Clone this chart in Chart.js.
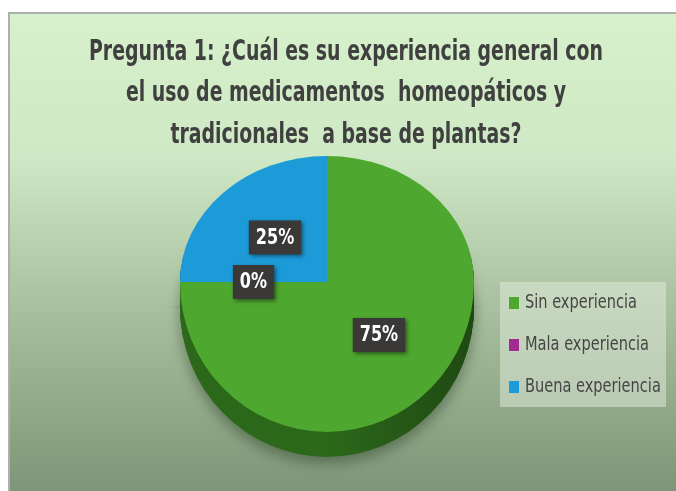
<!DOCTYPE html>
<html>
<head>
<meta charset="utf-8">
<script src="https://cdn.jsdelivr.net/npm/chart.js@4.4.1/dist/chart.umd.min.js"></script>
<style>
  html, body { margin: 0; padding: 0; background: #ffffff; }
  #wrap { position: relative; width: 676px; height: 491px; }
</style>
</head>
<body>
<div id="wrap"><canvas id="c" width="676" height="491"></canvas></div>
<script>
// ---- data ----
const titleLines = [
  'Pregunta 1: ¿Cuál es su experiencia general con',
  'el uso de medicamentos  homeopáticos y',
  'tradicionales  a base de plantas?'
];
const categories = ['Sin experiencia', 'Mala experiencia', 'Buena experiencia'];
const values = [75, 0, 25];
const valueLabels = ['75%', '0%', '25%'];
const sliceColors = ['#4ea72e', '#a02b93', '#1c9bd8'];
const sideColors = ['#2c681a', '#6a1c61', '#136a94'];

const FONT = "'Liberation Sans Narrow','DejaVu Sans Condensed','Roboto Condensed','Liberation Sans',sans-serif";

// vertical squash of the pie (upper / lower half) to fake the 3D tilt
const K_TOP = 0.857, K_BOT = 1.02, DEPTH = 25;

function drawPieLayer(chart, ctx, dy, colorArr) {
  const meta = chart.getDatasetMeta(0);
  const cx = meta.data[0].x, cy = meta.data[0].y;
  [[K_TOP, true], [K_BOT, false]].forEach(([k, top]) => {
    ctx.save();
    ctx.beginPath();
    if (top) ctx.rect(0, cy + dy - 1000, 2000, 1000.5);
    else ctx.rect(0, cy + dy - 0.5, 2000, 1000);
    ctx.clip();
    ctx.translate(cx, cy + dy);
    ctx.scale(1, k);
    ctx.translate(-cx, -cy);
    meta.data.forEach((arc, i) => {
      const o = arc.options;
      const old = o.backgroundColor;
      if (colorArr) o.backgroundColor = colorArr[i];
      arc.draw(ctx);
      o.backgroundColor = old;
    });
    ctx.restore();
  });
}

const pie3d = {
  id: 'pie3d',
  beforeDraw(chart) {
    const ctx = chart.ctx;
    ctx.save();
    ctx.fillStyle = '#ffffff';
    ctx.fillRect(0, 0, chart.width, chart.height);
    const g = ctx.createLinearGradient(0, 12, 0, 491);
    g.addColorStop(0, '#d6f1cb');
    g.addColorStop(0.3, '#cfe8c5');
    g.addColorStop(0.6, '#aac2a1');
    g.addColorStop(1, '#7e9577');
    ctx.fillStyle = g;
    ctx.fillRect(8, 12, 668, 479);
    ctx.strokeStyle = '#aeb0ad';
    ctx.lineWidth = 2;
    ctx.beginPath();
    ctx.moveTo(9, 491); ctx.lineTo(9, 13); ctx.lineTo(676, 13);
    ctx.stroke();
    ctx.restore();
  },
  beforeDatasetsDraw(chart) {
    const ctx = chart.ctx;
    const meta = chart.getDatasetMeta(0);
    const cx = meta.data[0].x;
    const r = meta.data[0].outerRadius;
    const grads = sideColors.map(c => {
      const g = ctx.createLinearGradient(cx - r, 0, cx + r, 0);
      g.addColorStop(0, c);
      g.addColorStop(0.5, c);
      g.addColorStop(1, shade(c, 0.7));
      return g;
    });
    ctx.save();
    ctx.shadowColor = 'rgba(30,50,25,0.45)';
    ctx.shadowBlur = 14;
    ctx.shadowOffsetY = 6;
    drawPieLayer(chart, ctx, DEPTH, grads);
    ctx.restore();
    for (let d = DEPTH - 1; d >= 1; d--) drawPieLayer(chart, ctx, d, grads);
    drawPieLayer(chart, ctx, 0, null);
    return false;
  },
  afterDraw(chart) {
    const ctx = chart.ctx;
    const meta = chart.getDatasetMeta(0);
    const cy = meta.data[0].y;
    // data labels
    meta.data.forEach((arc, i) => {
      const p = arc.getCenterPoint();
      const y = p.y < cy ? cy + (p.y - cy) * K_TOP : cy + (p.y - cy) * K_BOT;
      ctx.save();
      ctx.font = 'bold 21px ' + FONT;
      const tw = ctx.measureText(valueLabels[i]).width * 0.85;
      const w = tw + 14, h = 34;
      ctx.shadowColor = 'rgba(0,0,0,0.45)';
      ctx.shadowBlur = 4; ctx.shadowOffsetX = 2; ctx.shadowOffsetY = 2;
      ctx.fillStyle = '#3b3838';
      ctx.fillRect(p.x - w / 2, y - h / 2, w, h);
      ctx.shadowColor = 'transparent';
      ctx.fillStyle = '#ffffff';
      ctx.textAlign = 'center'; ctx.textBaseline = 'middle';
      ctx.translate(p.x, y + 1);
      ctx.scale(0.85, 1);
      ctx.fillText(valueLabels[i], 0, 0);
      ctx.restore();
    });
    // title
    ctx.save();
    ctx.fillStyle = '#3f403f';
    ctx.font = 'bold 29px ' + FONT;
    ctx.textAlign = 'center'; ctx.textBaseline = 'middle';
    const maxW = ctx.measureText(titleLines[0]).width;
    const sx = Math.min(1, 514 / maxW);
    titleLines.forEach((t, i) => {
      ctx.save();
      ctx.translate(346, 52 + i * 41.5);
      ctx.scale(sx, 1);
      ctx.fillText(t, 0, 0);
      ctx.restore();
    });
    ctx.restore();
    // legend
    ctx.save();
    ctx.fillStyle = 'rgba(228,238,222,0.5)';
    ctx.fillRect(500, 282, 166, 125);
    ctx.font = '19px ' + FONT;
    const lw = ctx.measureText(categories[0]).width;
    const lsx = Math.min(1, 112 / lw);
    categories.forEach((t, i) => {
      const yy = 303 + i * 42;
      ctx.fillStyle = sliceColors[i];
      ctx.fillRect(509, yy - 6, 10, 12);
      ctx.save();
      ctx.translate(525, yy);
      ctx.scale(lsx, 1);
      ctx.fillStyle = '#454545';
      ctx.textBaseline = 'middle';
      ctx.fillText(t, 0, 0);
      ctx.restore();
    });
    ctx.restore();
  }
};

function shade(hex, f) {
  const n = parseInt(hex.slice(1), 16);
  const r = Math.round(((n >> 16) & 255) * f), g = Math.round(((n >> 8) & 255) * f), b = Math.round((n & 255) * f);
  return 'rgb(' + r + ',' + g + ',' + b + ')';
}

new Chart(document.getElementById('c'), {
  type: 'pie',
  data: {
    labels: categories,
    datasets: [{
      data: values,
      backgroundColor: sliceColors,
      borderWidth: 0
    }]
  },
  options: {
    responsive: false,
    animation: false,
    radius: 147,
    layout: { padding: { left: 8, right: 30, top: 120, bottom: 47 } },
    plugins: {
      legend: { display: false },
      title: { display: false },
      tooltip: { enabled: false }
    }
  },
  plugins: [pie3d]
});
</script>
</body>
</html>
